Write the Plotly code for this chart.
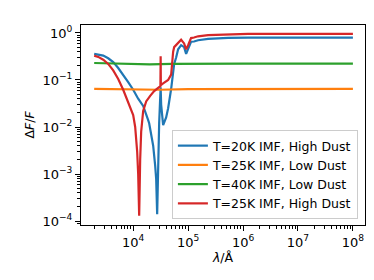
import plotly.graph_objects as go

# ---- data ----
wl_blue = [1950, 2310, 2850, 3510, 4330, 5340, 6580, 8110, 10000, 12330, 15200, 16520,
           18740, 19540, 23110, 25130, 26200, 27320, 28480, 29700, 30970, 31620, 32290,
           35100, 39800, 43290, 49130, 51200, 55700, 60500, 65800, 74600, 84500, 92000,
           100000, 113000, 128000, 152000, 231000, 535000, 1230000, 1e8]
val_blue = [0.36, 0.35, 0.33, 0.29, 0.24, 0.18, 0.13, 0.09, 0.062, 0.04, 0.028, 0.022,
            0.014, 0.012, 0.004, 0.0015, 0.0008, 0.00014, 0.002, 0.012, 0.04, 0.07, 0.03,
            0.011, 0.016, 0.025, 0.065, 0.1, 0.22, 0.3, 0.45, 0.55, 0.5, 0.36,
            0.45, 0.65, 0.66, 0.7, 0.75, 0.79, 0.8, 0.8]

wl_orange = [1950, 5000, 10000, 30000, 100000, 1e6, 1e8]
val_orange = [0.065, 0.064, 0.063, 0.062, 0.064, 0.065, 0.065]

wl_green = [1950, 5000, 10000, 20000, 50000, 100000, 1e6, 1e8]
val_green = [0.23, 0.225, 0.218, 0.215, 0.22, 0.222, 0.222, 0.222]

wl_red = [1950, 2310, 2850, 3510, 4330, 5340, 6580, 8110, 10000, 10870, 11820, 12330,
          12850, 13400, 13980, 15200, 17230, 20380, 24100, 28480, 31300, 31620, 31900,
          35100, 43290, 49130, 51200, 53400, 55700, 60500, 65800, 74600, 84500, 92000,
          100000, 113000, 128000, 152000, 231000, 535000, 1230000, 1e8]
val_red = [0.33, 0.31, 0.27, 0.22, 0.16, 0.105, 0.062, 0.034, 0.018, 0.01, 0.003, 0.001,
           0.00013, 0.002, 0.008, 0.022, 0.035, 0.046, 0.058, 0.068, 0.074, 0.32, 0.078,
           0.085, 0.1, 0.13, 0.25, 0.4, 0.5, 0.55, 0.62, 0.72, 0.6, 0.45,
           0.55, 0.78, 0.8, 0.85, 0.9, 0.94, 0.96, 0.96]

names = ["T=20K IMF, High Dust", "T=25K IMF, Low Dust",
         "T=40K IMF, Low Dust", "T=25K IMF, High Dust"]
colors = ["#1f77b4", "#ff7f0e", "#2ca02c", "#d62728"]

x_tickvals = [1e4, 1e5, 1e6, 1e7, 1e8]
x_ticktext = ["10<sup>4</sup>", "10<sup>5</sup>", "10<sup>6</sup>", "10<sup>7</sup>", "10<sup>8</sup>"]
y_tickvals = [1e-4, 1e-3, 1e-2, 1e-1, 1]
y_ticktext = ["10<sup>−4</sup>", "10<sup>−3</sup>", "10<sup>−2</sup>", "10<sup>−1</sup>", "10<sup>0</sup>"]

# ---- figure ----
fig = go.Figure()
series = [(wl_blue, val_blue), (wl_orange, val_orange), (wl_green, val_green), (wl_red, val_red)]
for (xs, ys), n, c in zip(series, names, colors):
    fig.add_trace(go.Scatter(x=xs, y=ys, mode="lines", name=n,
                             line=dict(color=c, width=2.2)))

minor_x = [m * 10 ** k for k in range(3, 9) for m in range(2, 10)]
minor_y = [m * 10.0 ** k for k in range(-5, 1) for m in range(2, 10)]

font = "DejaVu Sans"
fig.update_layout(
    width=374, height=280,
    margin=dict(l=73, r=17, t=17, b=63),
    paper_bgcolor="white", plot_bgcolor="white",
    font=dict(family=font, size=13, color="black"),
    showlegend=True,
    legend=dict(x=0.975, y=0.03, xanchor="right", yanchor="bottom",
                bgcolor="rgba(255,255,255,0.8)", bordercolor="#cccccc", borderwidth=1,
                font=dict(size=12.5, family=font), tracegroupgap=0),
    xaxis=dict(type="log", range=[3.05, 8.22], showgrid=False, zeroline=False,
               showline=True, linecolor="black", linewidth=1, mirror=True,
               ticks="outside", ticklen=5, tickwidth=1, tickcolor="black",
               tickmode="array", tickvals=x_tickvals, ticktext=x_ticktext,
               tickfont=dict(size=13),
               minor=dict(ticks="outside", ticklen=3, tickwidth=1, tickcolor="black",
                          tickmode="array", tickvals=minor_x),
               title=dict(text="<i>λ</i>/Å", standoff=4, font=dict(size=12.5))),
    yaxis=dict(type="log", range=[-4.085, 0.17], showgrid=False, zeroline=False,
               showline=True, linecolor="black", linewidth=1, mirror=True,
               ticks="outside", ticklen=5, tickwidth=1, tickcolor="black",
               tickmode="array", tickvals=y_tickvals, ticktext=y_ticktext,
               tickfont=dict(size=13),
               minor=dict(ticks="outside", ticklen=3, tickwidth=1, tickcolor="black",
                          tickmode="array", tickvals=minor_y),
               title=dict(text="Δ<i>F</i>/<i>F</i>", standoff=5, font=dict(size=12.5))),
)

fig.write_html("out.html")
